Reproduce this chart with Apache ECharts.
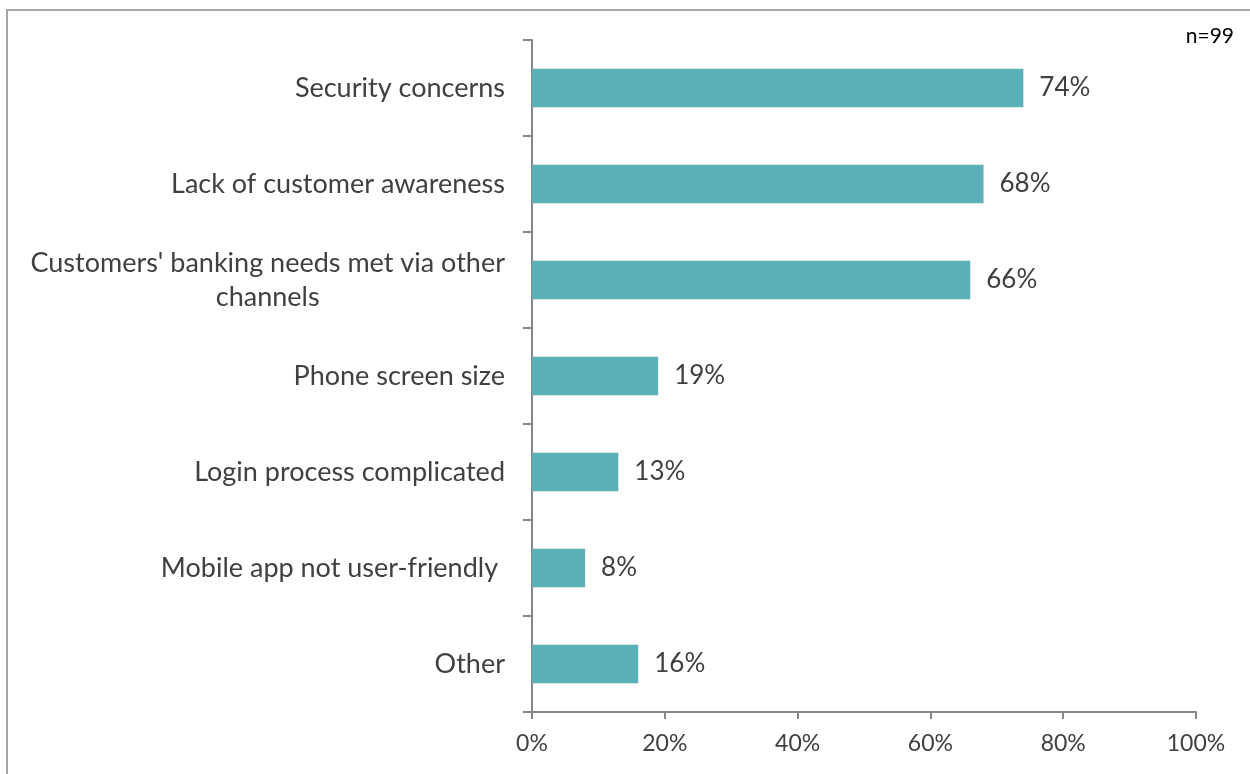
<!DOCTYPE html>
<html>
<head>
<meta charset="utf-8">
<script src="https://cdn.jsdelivr.net/npm/echarts@6/dist/echarts.min.js"></script>
<style>
  html, body { margin: 0; padding: 0; background: #fff; }
  #chart { width: 1250px; height: 774px; }
</style>
</head>
<body>
<div id="chart"></div>
<script>
// Barriers to mobile banking adoption (share of respondents)
const categories = [
  'Security concerns',
  'Lack of customer awareness',
  "Customers' banking needs met via other\nchannels",
  'Phone screen size',
  'Login process complicated',
  'Mobile app not user-friendly ',
  'Other'
];
const values = [74, 68, 66, 19, 13, 8, 16];
const sampleNote = 'n=99';

const FONT = 'Lato, "Open Sans", sans-serif';
const TEXT = '#404040';
const BAR = '#5BB0B9';
const AXIS = '#868686';

const chart = echarts.init(document.getElementById('chart'), null, { renderer: 'canvas' });
chart.setOption({
  animation: false,
  backgroundColor: '#fff',
  textStyle: { fontFamily: FONT },
  graphic: [
    {
      type: 'rect',
      shape: { x: 7, y: 10, width: 1300, height: 800 },
      style: { fill: 'none', stroke: '#A6A6A6', lineWidth: 2 },
      silent: true
    },
    {
      type: 'text',
      right: 16, top: 26,
      style: { text: sampleNote, fontSize: 21, fill: '#000', fontFamily: FONT }
    }
  ],
  grid: { left: 532, right: 54, top: 40, bottom: 62, containLabel: false },
  xAxis: {
    type: 'value',
    min: 0, max: 100, interval: 20,
    axisLine: { show: true, lineStyle: { color: AXIS, width: 2 } },
    axisTick: { show: true, length: 7, inside: false, lineStyle: { color: AXIS, width: 2 } },
    splitLine: { show: false },
    axisLabel: { formatter: '{value}%', color: TEXT, fontSize: 23, margin: 20, fontFamily: FONT }
  },
  yAxis: {
    type: 'category',
    data: categories,
    inverse: true,
    axisLine: { show: true, lineStyle: { color: AXIS, width: 2 } },
    axisTick: { show: true, length: 9, alignWithLabel: false, lineStyle: { color: AXIS, width: 2 } },
    axisLabel: {
      color: TEXT, fontSize: 27, margin: 27, align: 'right',
      lineHeight: 34, fontFamily: FONT,
      // each line centred within the right-aligned label block
      formatter: function (v) {
        return v.split('\n').map(function (s) { return '{c|' + s + '}'; }).join('\n');
      },
      rich: {
        c: { align: 'center', color: TEXT, fontSize: 27, lineHeight: 34, fontFamily: FONT }
      }
    }
  },
  series: [{
    type: 'bar',
    data: values,
    barCategoryGap: '60%',
    itemStyle: { color: BAR },
    label: {
      show: true, position: 'right', distance: 16,
      formatter: '{c}%', color: TEXT, fontSize: 26, fontFamily: FONT
    }
  }]
});
</script>
</body>
</html>
